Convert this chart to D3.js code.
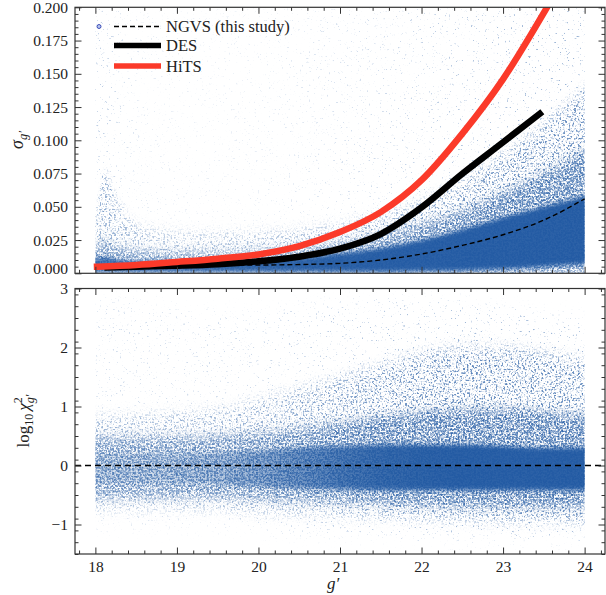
<!DOCTYPE html>
<html>
<head>
<meta charset="utf-8">
<script src="https://cdn.jsdelivr.net/npm/d3@7"></script>
<style>
  body { margin: 0; background: #fff; }
  svg { display: block; }
  text { font-family: "Liberation Serif", "DejaVu Serif", serif; fill: #222; }
</style>
</head>
<body>
<svg id="chart" width="606" height="595"></svg>
<script>
// ---- data ----
// model error curves, sigma_g' vs g'
const ngvsG = [18.0, 19.0, 20.0, 20.5, 21.0, 21.5, 22.0, 22.5, 23.0, 23.5, 24.0];
const ngvsSigma = [0.0062, 0.006, 0.0062, 0.0066, 0.0075, 0.010, 0.0145, 0.021, 0.029, 0.040, 0.056];
const desG = [18.15, 18.5, 19.0, 19.5, 20.0, 20.5, 21.0, 21.5, 22.0, 22.5, 23.0, 23.45];
const desSigma = [0.0045, 0.005, 0.0057, 0.0068, 0.009, 0.0125, 0.0185, 0.0295, 0.0495, 0.0748, 0.0985, 0.120];
const hitsG = [18.02, 18.5, 19.0, 19.5, 20.0, 20.5, 21.0, 21.5, 22.0, 22.5, 23.0, 23.53];
const hitsSigma = [0.005, 0.0062, 0.0085, 0.011, 0.0142, 0.0205, 0.031, 0.046, 0.070, 0.105, 0.146, 0.199];

// point cloud, top panel: envelopes per magnitude bin
const topG = [18.0, 18.12, 18.3, 18.6, 19.0, 19.5, 20.0, 20.5, 21.0, 21.5, 22.0, 22.5, 23.0, 23.5, 24.0];
const topHaloAlpha = [0.3, 0.3, 0.2, 0.12, 0.1, 0.1, 0.11, 0.14, 0.18, 0.23, 0.28, 0.34, 0.39, 0.43, 0.46];
const topMidHi = [0.042, 0.075, 0.052, 0.035, 0.031, 0.03, 0.031, 0.033, 0.037, 0.044, 0.054, 0.07, 0.09, 0.112, 0.14];
const topMidAlpha = [0.42, 0.48, 0.42, 0.36, 0.36, 0.36, 0.38, 0.41, 0.45, 0.5, 0.55, 0.6, 0.64, 0.66, 0.66];
const topInnerHi = [0.02, 0.024, 0.019, 0.017, 0.016, 0.016, 0.017, 0.019, 0.023, 0.029, 0.037, 0.047, 0.06, 0.075, 0.092];
const topInnerAlpha = [0.55, 0.55, 0.55, 0.55, 0.55, 0.55, 0.57, 0.6, 0.62, 0.64, 0.66, 0.68, 0.7, 0.7, 0.7];
const topCoreLo = [0.001, 0.001, 0.001, 0.001, 0.001, 0.001, 0.001, 0.001, 0.001, 0.001, 0.0015, 0.002, 0.003, 0.005, 0.007];
const topCoreHi = [0.011, 0.012, 0.01, 0.009, 0.009, 0.009, 0.01, 0.012, 0.015, 0.019, 0.025, 0.033, 0.042, 0.05, 0.058];
const topCoreAlpha = [0.8, 0.8, 0.82, 0.85, 0.86, 0.88, 0.9, 0.92, 0.94, 0.95, 0.95, 0.95, 0.95, 0.95, 0.95];

// point cloud, bottom panel: log10 chi2 envelopes
const botG = [18.0, 18.5, 19.0, 19.5, 20.0, 20.5, 21.0, 21.5, 22.0, 22.5, 23.0, 23.5, 24.0];
const botHaloLo = [-1.05, -1.05, -1.05, -1.05, -1.1, -1.15, -1.15, -1.2, -1.25, -1.25, -1.25, -1.25, -1.25];
const botHaloHi = [2.8, 2.8, 2.7, 2.6, 2.6, 2.7, 2.75, 2.8, 2.8, 2.75, 2.65, 2.55, 2.45];
const botHaloAlpha = [0.2, 0.2, 0.2, 0.21, 0.23, 0.27, 0.32, 0.37, 0.41, 0.43, 0.43, 0.43, 0.43];
const botMidLo = [-0.75, -0.75, -0.75, -0.75, -0.8, -0.82, -0.85, -0.88, -0.9, -0.92, -0.95, -0.95, -0.95];
const botMidHi = [0.85, 0.85, 0.9, 0.95, 1.1, 1.3, 1.5, 1.7, 1.9, 2.0, 2.0, 1.9, 1.8];
const botMidAlpha = [0.42, 0.42, 0.42, 0.44, 0.47, 0.51, 0.56, 0.61, 0.65, 0.67, 0.67, 0.67, 0.67];
const botInnerLo = [-0.55, -0.55, -0.55, -0.55, -0.57, -0.6, -0.62, -0.65, -0.67, -0.7, -0.7, -0.7, -0.7];
const botInnerHi = [0.48, 0.48, 0.48, 0.5, 0.55, 0.62, 0.72, 0.82, 0.9, 0.95, 0.95, 0.9, 0.85];
const botInnerAlpha = [0.6, 0.6, 0.6, 0.62, 0.64, 0.66, 0.68, 0.7, 0.72, 0.72, 0.72, 0.72, 0.72];
const botCoreLo = [-0.3, -0.3, -0.3, -0.32, -0.35, -0.38, -0.4, -0.42, -0.42, -0.42, -0.42, -0.42, -0.42];
const botCoreHi = [0.2, 0.2, 0.2, 0.22, 0.25, 0.3, 0.32, 0.35, 0.35, 0.35, 0.33, 0.3, 0.3];
const botCoreAlpha = [0.15, 0.18, 0.22, 0.3, 0.45, 0.62, 0.78, 0.88, 0.93, 0.95, 0.95, 0.95, 0.95];

const xTicks = [18, 19, 20, 21, 22, 23, 24];
const topYTicks = [0, 0.025, 0.05, 0.075, 0.1, 0.125, 0.15, 0.175, 0.2];
const botYTicks = [-1, 0, 1, 2, 3];

const BLUE = '#2159a2';
const AX = '#333';

const svg = d3.select('#chart');
const defs = svg.append('defs');

const x = d3.scaleLinear().domain([17.75, 24.25]).range([75, 605]);
const yTop = d3.scaleLinear().domain([0, 0.2]).range([273.3, 7.3]);
const yBot = d3.scaleLinear().domain([-1.5, 3]).range([554, 288.5]);

// soft vertical blur, optionally masked by the overlap of two speckle
// noises so the envelopes read as a cloud of small points
function softFilter(id, blurY, grainOpts) {
  const f = defs.append('filter').attr('id', id)
    .attr('filterUnits', 'userSpaceOnUse')
    .attr('x', 0).attr('y', 0).attr('width', 606).attr('height', 595)
    .attr('color-interpolation-filters', 'sRGB');
  f.append('feGaussianBlur').attr('in', 'SourceGraphic')
    .attr('stdDeviation', `0 ${blurY}`).attr('result', 'b');
  if (!grainOpts) return;
  grainOpts.seeds.forEach((s, i) => {
    f.append('feTurbulence').attr('type', 'fractalNoise')
      .attr('baseFrequency', grainOpts.freq).attr('numOctaves', 1)
      .attr('seed', s).attr('result', 'n' + i);
    f.append('feColorMatrix').attr('in', 'n' + i).attr('type', 'matrix')
      .attr('values', `0 0 0 0 0  0 0 0 0 0  0 0 0 0 0  ${grainOpts.k} 0 0 0 ${grainOpts.b}`)
      .attr('result', 'm' + i);
  });
  f.append('feComposite').attr('in', 'm0').attr('in2', 'm1').attr('operator', 'in').attr('result', 'm');
  f.append('feComposite').attr('in', 'b').attr('in2', 'm').attr('operator', 'in');
}
softFilter('fSparse', 8, { freq: 0.55, seeds: [11, 37], k: 8, b: -4.5 });
softFilter('fMid', 6, { freq: 0.55, seeds: [5, 41], k: 6, b: -2.6 });
softFilter('fDense', 5, { freq: 0.55, seeds: [23, 59], k: 5, b: -1.7 });
softFilter('fCore', 2, null);

function clip(id, y) {
  defs.append('clipPath').attr('id', id).append('rect')
    .attr('x', x.range()[0]).attr('y', y.range()[1])
    .attr('width', x.range()[1] - x.range()[0]).attr('height', y.range()[0] - y.range()[1]);
}
clip('clipTop', yTop);
clip('clipBot', yBot);

function band(g, id, gs, lo, hi, alpha, y, filter) {
  const grad = defs.append('linearGradient').attr('id', id)
    .attr('gradientUnits', 'userSpaceOnUse')
    .attr('x1', x(gs[0])).attr('x2', x(gs[gs.length - 1])).attr('y1', 0).attr('y2', 0);
  const span = gs[gs.length - 1] - gs[0];
  gs.forEach((v, i) => grad.append('stop')
    .attr('offset', (v - gs[0]) / span)
    .attr('stop-color', BLUE).attr('stop-opacity', alpha[i]));
  const val = (a, i) => (typeof a === 'number' ? a : a[i]);
  const area = d3.area()
    .x((d, i) => x(gs[i]))
    .y0((d, i) => y(val(lo, i)))
    .y1((d, i) => y(val(hi, i)))
    .curve(d3.curveMonotoneX);
  g.append('path').datum(gs).attr('d', area)
    .attr('fill', `url(#${id})`)
    .attr('filter', filter ? `url(#${filter})` : null);
}

function frame(y, showX) {
  const [y1, y0] = y.range();
  const [x0, x1] = x.range();
  const g = svg.append('g');
  const minorX = d3.range(17.8, 24.25, 0.2).filter(v => Math.abs(v - Math.round(v)) > 1e-6);
  const yDom = y.domain();
  const yMajor = y === yTop ? topYTicks : botYTicks;
  const yStep = y === yTop ? 0.005 : 0.2;
  const minorY = d3.range(yDom[0], yDom[1] + 1e-9, yStep)
    .filter(v => !yMajor.some(t => Math.abs(t - v) < 1e-9));

  const style = sel => {
    sel.select('.domain').remove();
    sel.selectAll('line').attr('stroke', AX).attr('stroke-width', 1);
    sel.selectAll('text').attr('font-size', 15.5).attr('fill', '#222')
      .style('font-family', '"Liberation Serif", "DejaVu Serif", serif');
  };
  // major
  g.append('g').attr('transform', `translate(0,${y1})`)
    .call(d3.axisBottom(x).tickValues(xTicks).tickSize(-6.5).tickPadding(7)
      .tickFormat(showX ? d3.format('d') : () => '')).call(style);
  g.append('g').attr('transform', `translate(0,${y0})`)
    .call(d3.axisTop(x).tickValues(xTicks).tickSize(-6.5).tickFormat(() => '')).call(style);
  const yAxis = g.append('g').attr('transform', `translate(${x0},0)`)
    .call(d3.axisLeft(y).tickValues(yMajor).tickSize(-6.5).tickPadding(7)
      .tickFormat(y === yTop ? d3.format('.3f') : d3.format('d'))).call(style);
  // lowest sigma label sits a little above its tick in the original
  if (y === yTop) yAxis.selectAll('.tick').filter(d => d === 0).select('text').attr('y', -4.5);
  g.append('g').attr('transform', `translate(${x1},0)`)
    .call(d3.axisRight(y).tickValues(yMajor).tickSize(-6.5).tickFormat(() => '')).call(style);
  // minor
  g.append('g').attr('transform', `translate(0,${y1})`)
    .call(d3.axisBottom(x).tickValues(minorX).tickSize(-3.5).tickFormat(() => '')).call(style);
  g.append('g').attr('transform', `translate(0,${y0})`)
    .call(d3.axisTop(x).tickValues(minorX).tickSize(-3.5).tickFormat(() => '')).call(style);
  g.append('g').attr('transform', `translate(${x0},0)`)
    .call(d3.axisLeft(y).tickValues(minorY).tickSize(-3.5).tickFormat(() => '')).call(style);
  g.append('g').attr('transform', `translate(${x1},0)`)
    .call(d3.axisRight(y).tickValues(minorY).tickSize(-3.5).tickFormat(() => '')).call(style);

  g.append('rect').attr('x', x0).attr('y', y0).attr('width', x1 - x0).attr('height', y1 - y0)
    .attr('fill', 'none').attr('stroke', AX).attr('stroke-width', 1.2);
}

// ---- top panel ----
const topPanel = svg.append('g').attr('clip-path', 'url(#clipTop)');
band(topPanel, 'gTopHalo', topG, 0, 0.2, topHaloAlpha, yTop, 'fSparse');
band(topPanel, 'gTopMid', topG, 0, topMidHi, topMidAlpha, yTop, 'fMid');
band(topPanel, 'gTopInner', topG, 0, topInnerHi, topInnerAlpha, yTop, 'fDense');
band(topPanel, 'gTopCore', topG, topCoreLo, topCoreHi, topCoreAlpha, yTop, 'fCore');

const curve = (gs, vs) => d3.line()
  .x((d, i) => x(gs[i])).y((d, i) => yTop(vs[i]))
  .curve(d3.curveMonotoneX)(gs);

topPanel.append('path').attr('d', curve(ngvsG, ngvsSigma))
  .attr('fill', 'none').attr('stroke', '#000').attr('stroke-width', 1.4)
  .attr('stroke-dasharray', '5,3');
topPanel.append('path').attr('d', curve(desG, desSigma))
  .attr('fill', 'none').attr('stroke', '#000').attr('stroke-width', 6.5)
  .attr('stroke-linecap', 'square');
topPanel.append('path').attr('d', curve(hitsG, hitsSigma))
  .attr('fill', 'none').attr('stroke', '#fb3a2a').attr('stroke-width', 6.5)
  .attr('stroke-linecap', 'square');

frame(yTop, false);

// legend
const leg = svg.append('g');
leg.append('circle').attr('cx', 99).attr('cy', 26.5).attr('r', 2)
  .attr('fill', '#b8c4ec').attr('stroke', '#2b3fb3').attr('stroke-width', 0.9);
const legItems = [
  { label: 'NGVS (this study)', y: 26.5, color: '#000', w: 1.4, dash: '5,3' },
  { label: 'DES', y: 45.5, color: '#000', w: 5.5, dash: null },
  { label: 'HiTS', y: 66, color: '#fb3a2a', w: 5.5, dash: null }
];
legItems.forEach(d => {
  leg.append('line').attr('x1', 114).attr('x2', 161).attr('y1', d.y).attr('y2', d.y)
    .attr('stroke', d.color).attr('stroke-width', d.w).attr('stroke-dasharray', d.dash);
  leg.append('text').attr('x', 166).attr('y', d.y + 5.5).attr('font-size', 16.5).text(d.label);
});

// ---- bottom panel ----
const botPanel = svg.append('g').attr('clip-path', 'url(#clipBot)');
band(botPanel, 'gBotHalo', botG, botHaloLo, botHaloHi, botHaloAlpha, yBot, 'fSparse');
band(botPanel, 'gBotMid', botG, botMidLo, botMidHi, botMidAlpha, yBot, 'fMid');
band(botPanel, 'gBotInner', botG, botInnerLo, botInnerHi, botInnerAlpha, yBot, 'fDense');
band(botPanel, 'gBotCore', botG, botCoreLo, botCoreHi, botCoreAlpha, yBot, 'fCore');

botPanel.append('line').attr('x1', x.range()[0]).attr('x2', x.range()[1])
  .attr('y1', yBot(0)).attr('y2', yBot(0))
  .attr('stroke', '#000').attr('stroke-width', 1.5).attr('stroke-dasharray', '6,4');

frame(yBot, true);

// ---- axis labels ----
const ylab1 = svg.append('text').attr('transform', 'translate(23,140) rotate(-90)')
  .attr('text-anchor', 'middle').attr('font-size', 18);
ylab1.append('tspan').attr('font-style', 'italic').text('σ');
ylab1.append('tspan').attr('font-style', 'italic').attr('font-size', 12.5).attr('dy', 4).text('g′');

const ylab2 = svg.append('text').attr('transform', 'translate(29,421) rotate(-90)')
  .attr('text-anchor', 'middle').attr('font-size', 17);
ylab2.append('tspan').text('log');
ylab2.append('tspan').attr('font-size', 12).attr('dy', 4).text('10');
ylab2.append('tspan').attr('font-style', 'italic').attr('dy', -4).attr('dx', 3).text('χ');
ylab2.append('tspan').attr('font-size', 12).attr('dy', -7).text('2');
ylab2.append('tspan').attr('font-size', 12).attr('font-style', 'italic').attr('dy', 12).attr('dx', -6).text('g′');

svg.append('text').attr('x', 333).attr('y', 589).attr('text-anchor', 'middle')
  .attr('font-size', 17).attr('font-style', 'italic').text('g′');
</script>
</body>
</html>
